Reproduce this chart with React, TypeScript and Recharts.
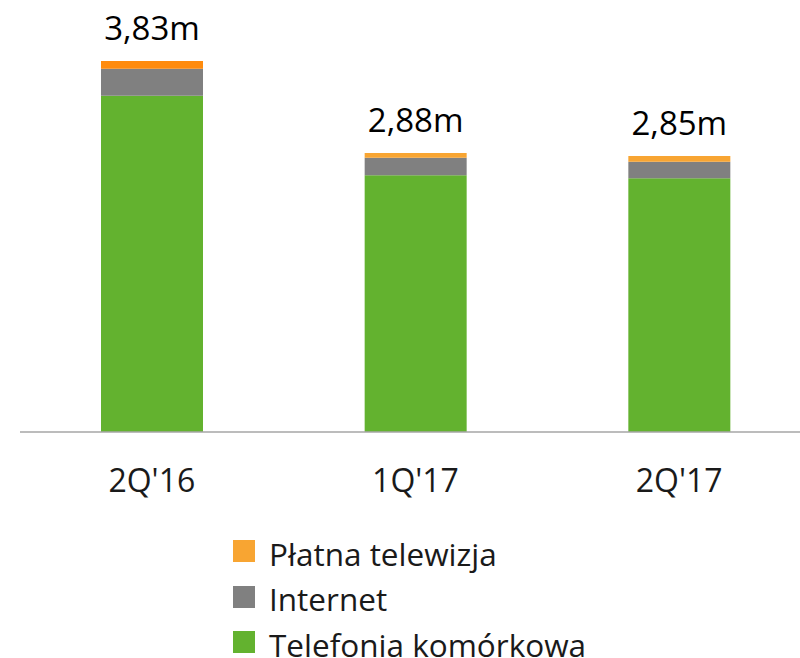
import React from "react";
import { BarChart, Bar, XAxis, YAxis, Cell, LabelList } from "recharts";

const categories = ["2Q'16", "1Q'17", "2Q'17"];
const mobile = [3.47, 2.65, 2.62];
const internet = [0.28, 0.18, 0.17];
const payTv = [0.08, 0.05, 0.06];
const totalLabels = ["3,83m", "2,88m", "2,85m"];

const seriesNames = ["Telefonia komórkowa", "Internet", "Płatna telewizja"];
const seriesColors = ["#63B22F", "#808080", "#F8A532"];
const payTvBarColors = ["#FF8B0D", "#F8A532", "#F8A532"];

const data = categories.map((c, i) => ({
  name: c,
  mobile: mobile[i],
  internet: internet[i],
  payTv: payTv[i],
  label: totalLabels[i],
}));

const FONT = "'Open Sans', 'Noto Sans', sans-serif";

const Tick = (props: any) => {
  const { x, y, payload } = props;
  return (
    <text x={x} y={y + 60} textAnchor="middle" fontFamily={FONT} fontSize={32} fill="#1a1a1a">
      {payload.value}
    </text>
  );
};

const TopLabel = (props: any) => {
  const { x, y, width, value } = props;
  return (
    <text x={x + width / 2} y={y - 21} textAnchor="middle" fontFamily={FONT} fontSize={33} fill="#000">
      {value}
    </text>
  );
};

export default function App() {
  const legendOrder = [2, 1, 0];
  return (
    <div style={{ position: "absolute", left: 0, top: 0, width: 800, height: 658, overflow: "hidden", background: "#fff" }}>
      <BarChart
        width={812}
        height={658}
        data={data}
        margin={{ top: 44.5, right: 1, bottom: 166, left: 20 }}
        barSize={102}
      >
        <XAxis
          dataKey="name"
          axisLine={{ stroke: "#A6A6A6", strokeWidth: 1.3 }}
          tickLine={false}
          tickSize={0}
          tickMargin={0}
          height={60}
          tick={<Tick />}
          interval={0}
        />
        <YAxis hide domain={[0, 4]} />
        <Bar dataKey="mobile" stackId="a" fill={seriesColors[0]} isAnimationActive={false} />
        <Bar dataKey="internet" stackId="a" fill={seriesColors[1]} isAnimationActive={false} />
        <Bar dataKey="payTv" stackId="a" fill={seriesColors[2]} isAnimationActive={false}>
          {data.map((d, i) => (
            <Cell key={d.name} fill={payTvBarColors[i]} />
          ))}
          <LabelList dataKey="label" content={<TopLabel />} />
        </Bar>
      </BarChart>
      <div style={{ position: "absolute", left: 233, top: 528.5, fontFamily: FONT, fontSize: 31.5, color: "#1a1a1a" }}>
        {legendOrder.map((idx) => (
          <div key={seriesNames[idx]} style={{ display: "flex", alignItems: "center", height: 45.5 }}>
            <div style={{ width: 22, height: 22, background: seriesColors[idx], marginRight: 14, flexShrink: 0 }} />
            <span style={{ display: "inline-block", lineHeight: "24px", height: 24, position: "relative", top: 2.6, whiteSpace: "nowrap" }}>{seriesNames[idx]}</span>
          </div>
        ))}
      </div>
    </div>
  );
}
